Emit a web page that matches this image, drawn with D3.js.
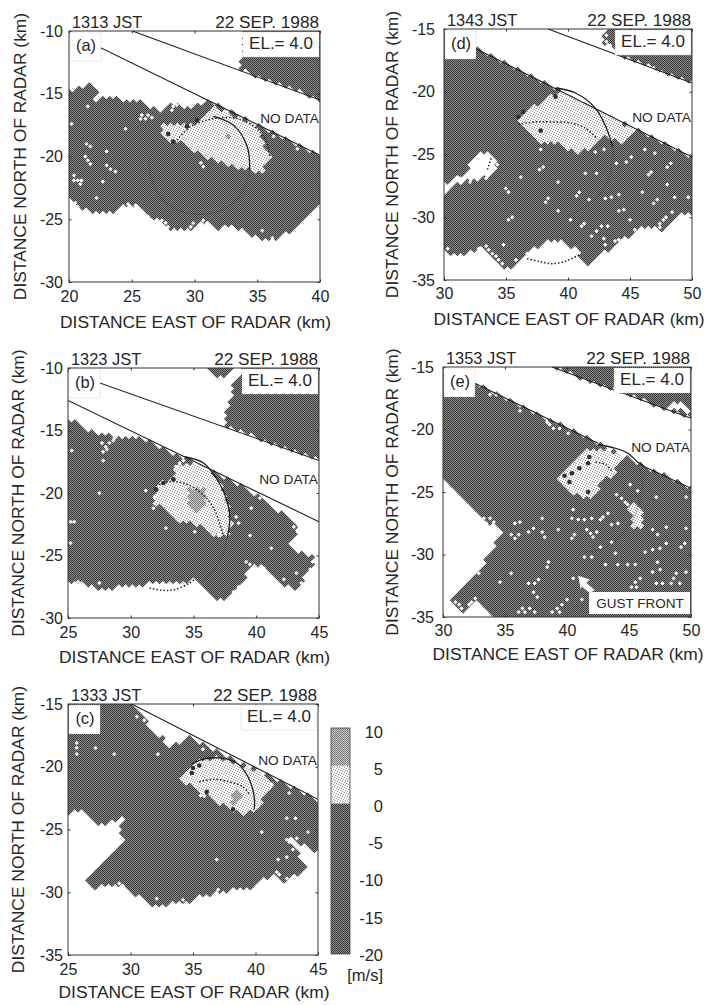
<!DOCTYPE html>
<html><head><meta charset="utf-8">
<script src="https://cdnjs.cloudflare.com/ajax/libs/d3/7.8.5/d3.min.js"></script>
<style>
html,body{margin:0;padding:0;background:#fff}
svg{display:block}
text{font-family:"Liberation Sans",Arial,sans-serif;fill:#262626}
</style></head><body>
<script>
// ---------- values (km) ----------
const panelLetters = ["a","b","c","d","e"];
const times = ["1313 JST","1323 JST","1333 JST","1343 JST","1353 JST"];
const dateLabel = "22 SEP. 1988";
const elevationLabel = "EL.= 4.0";
const xDomains = [[20,40],[25,45],[25,45],[30,50],[30,50]];
const yDomains = [[-30,-10],[-30,-10],[-35,-15],[-35,-15],[-35,-15]];
const colorBands = [[-20,0,"dark"],[0,5,"light"],[5,10,"mid"]];
const colorTicks = [10,5,0,-5,-10,-15,-20];

const echoA = [
 [[20,-14.7],[20.9,-14.5],[21.6,-14.1],[22.4,-14.7],[22.1,-15.5],[23.7,-15.2],[24.5,-15.6],[25.8,-15.5],[27,-16.4],[28.3,-15.8],[29.4,-16.2],[30.5,-15.8],[31,-15.5],[40,-19.9],[40,-24],[39.2,-24.8],[38.4,-25.2],[37.6,-26],[36.2,-26.7],[34.7,-26.4],[33.9,-25.9],[32.8,-25.6],[31.8,-25.7],[30.7,-25.1],[29.7,-25.7],[28.6,-25.9],[27.8,-25.7],[27,-25.1],[26.2,-24.7],[25.4,-23.9],[24.6,-23.8],[23.5,-24.5],[21.9,-24.5],[20.9,-24.1],[20,-23.5]],
 [[33.4,-13],[33.9,-12],[33.9,-10],[40,-10],[40,-15.5]]
];
const lightA = [[[31.5,-16.1],[35.1,-17.6],[35.5,-19],[36,-20],[35.5,-21.1],[34.4,-21.1],[33.1,-20.8],[31.8,-20.3],[30.5,-19.8],[29.4,-19.2],[28.6,-18.7],[27.8,-18.7],[27.3,-17.6],[28.6,-17.4],[30.2,-17.6],[31,-16.8]]];
const midA = [[[32.6,-18],[33.1,-18.3],[32.8,-18.7],[32.3,-18.4]]];
const speckA = [[21.5,-16],[20.2,-17.4],[24.5,-17.8],[21.4,-19],[21.7,-19.2],[23,-19.6],[21.3,-20],[21.5,-20.3],[21.7,-20.6],[23,-20.7],[23.3,-21],[23.7,-21.2],[20.4,-21.5],[20.7,-21.9],[20.9,-22.2],[20.4,-21.9],[21,-21.9],[22.7,-22],[22.2,-23.3],[20.5,-23.7],[20.7,-24],[24.7,-23.8],[25.3,-23.9],[25.8,-16.7],[26.1,-17],[26.3,-16.7],[26.6,-16.9],[25.7,-17],[28.3,-16],[28.2,-16.3],[28.6,-15.9],[30.5,-20.5],[30.7,-20.8],[36.3,-18.4],[38.2,-19.4],[35.4,-25.9],[36.2,-26.5],[26.3,-24.8],[26.6,-25.1],[27.4,-25.1],[27.7,-25.3],[27.9,-25.6],[29.7,-25.6],[29.9,-25.3],[30.7,-25.1],[31,-25.3],[31.2,-25.6]];
const blobA = [[27.9,-18.2],[28.3,-18.8],[29.4,-17.6],[30.2,-17.1]];
const solidA = [[[31.5,-16.8],[33.1,-17.5],[34.2,-19.2],[34.4,-21.1]]];
const faintA = [[[34.4,-21.1],[34,-22.4],[33.1,-23.7],[31.5,-24.5],[29.4,-24.5],[27.5,-23.5],[26.5,-21.6],[26.4,-20]]];
const dottedA = [[[28.6,-18.7],[29.7,-17.6],[31,-17.1],[32.1,-16.9],[33.5,-17],[35,-17.8],[35.8,-19],[36,-20.1]]];
const edgesA = [[[25.05,-10],[40,-15.5]],[[20,-10.1],[40,-19.9]]];

const echoB = [
 [[25,-14.3],[25.8,-14.2],[26.7,-15.1],[27.8,-15.2],[28.9,-15.5],[29.8,-15.5],[30.7,-15.5],[38.2,-19.1],[40,-20.2],[41.4,-21.1],[42.7,-22.2],[43.6,-22.7],[43,-23.4],[42.4,-24],[43.5,-24.7],[44.8,-25.2],[44.3,-26.3],[43.5,-27.2],[43,-27.7],[41.9,-27.1],[40.6,-26],[39.8,-25.5],[39.1,-26.8],[38.2,-28.1],[37.1,-28.5],[36,-27.9],[35.2,-26.9],[34.2,-27.1],[32.8,-27.2],[31.3,-27.3],[29.7,-27.3],[28.1,-27.7],[27,-27.5],[25.7,-27.1],[25,-27.2]],
 [[36.2,-10],[38.2,-10],[37.9,-10.5],[37.1,-10.7],[36.6,-10.5]],
 [[38.9,-10.3],[38.2,-11.1],[38,-12.4],[37.6,-13.2],[37.4,-14.6],[45,-17.4],[45,-10],[39,-10]]
];
const lightB = [[[33.9,-17.6],[35.5,-17.6],[36.8,-18.6],[37.6,-20.2],[38,-22.3],[37.8,-23.4],[36.8,-23.4],[35.8,-22.8],[34.7,-22.3],[33.4,-22.2],[32.8,-21.2],[32,-21],[31.9,-19.9],[32.6,-19.1],[33.4,-18.6]]];
const midB = [[[34.7,-19.6],[35.8,-19.6],[35.9,-21],[35.2,-21.4],[34.6,-21.1]]];
const speckB = [[25.3,-16.6],[27.7,-16],[28,-16.3],[28.3,-16],[28.6,-15.8],[28.7,-15.6],[27.8,-16.7],[28.1,-16.5],[27.8,-17.4],[27.5,-20],[25.2,-22.3],[25.5,-22.3],[25.2,-24],[32.8,-22.8],[35.1,-23.1],[39.5,-23.4],[41.2,-24.4],[39.2,-25.5],[39.5,-25.7],[40.6,-26],[42.2,-26.9],[43.2,-26.4],[43.6,-27.2],[44,-26.7],[44.3,-26.1],[44.5,-25.5],[25.8,-27.1],[27.5,-27.2],[43,-22.7],[43.4,-22.6],[43.3,-23.1],[40.3,-20.4],[39.6,-21.2],[41.5,-21.1],[38.4,-21.9],[38.6,-22.4],[37,-23.4],[31.8,-21.2],[31.2,-19.8],[31.9,-20.4],[33.6,-17.9],[33.9,-17.6],[34.2,-17.4],[38.2,-27.9],[38.6,-27.5]];
const blobB = [[32,-19.7],[32.6,-19.2],[33.4,-18.9]];
const solidB = [[[34.3,-17.1],[35.8,-17.6],[36.8,-18.8],[37.6,-20.4],[37.9,-22],[37.7,-23.5]]];
const faintB = [[[37.7,-23.5],[37.1,-25.5],[35.8,-27]]];
const dottedB = [[[32,-19.4],[33.1,-19.1],[34.2,-19.2],[35.5,-19.9],[36.6,-21.2],[37.2,-22.8],[37.4,-23.4]],[[31.5,-27.6],[32.6,-27.8],[33.6,-27.7],[34.7,-27.2],[35.1,-26.9]]];
const edgesB = [[[25,-10.3],[45,-17.4]],[[25,-12.6],[45,-22.3]]];

const echoC = [[[25,-15],[30.1,-15],[30.5,-15.6],[31.3,-16.3],[31.3,-16.9],[32.6,-17.7],[32.9,-18.5],[33.7,-18.1],[34.7,-17.7],[35.8,-18.2],[45,-22.6],[45,-26.9],[43.5,-26.1],[42.5,-25.6],[43,-26.4],[44.3,-28],[43,-28.8],[42.2,-29.3],[41.4,-28.5],[39.5,-29.7],[37.7,-29.9],[36.6,-30.2],[35.5,-30.2],[34.5,-30.9],[33.4,-30.9],[32.3,-31.3],[31.3,-30.7],[30.2,-30.1],[29.4,-29.5],[28.3,-29.3],[27.3,-29.8],[26.5,-29],[27.3,-28],[28.3,-26.9],[29.5,-25.8],[29.1,-25.3],[29.5,-24],[28.2,-24.5],[27.3,-24.5],[26.5,-23.8],[25.7,-23.4],[25,-24.1]]];
const lightC = [[[33.8,-20.9],[34.7,-20],[35.8,-19.4],[37.1,-19.3],[38.7,-19.8],[40.1,-20.4],[41.4,-21.4],[40.6,-22.6],[39.8,-23.6],[38.7,-23.7],[37.9,-23.4],[36.6,-22.5],[35.3,-21.8],[34.5,-21.3]]];
const midC = [[[37.7,-22.1],[38.7,-22],[39,-22.8],[38.2,-22.9]]];
const speckC = [[25.7,-18.1],[25.7,-18.5],[25.7,-19],[27.2,-18.5],[28.7,-19],[30.5,-16],[31.1,-16.3],[32.2,-19],[33.9,-18],[36.9,-27.4],[40.5,-25.2],[42.5,-24.1],[43.2,-24.1],[42.7,-22.1],[44.2,-25.2],[43.3,-25.7],[42.5,-25.8],[42.7,-26],[43,-26.6],[42.5,-27.2],[41.8,-27.4],[41.7,-28.4],[41.9,-28.6],[42.5,-28.9],[41.3,-21.4],[37,-29.8],[32.1,-30.5],[34.2,-30.6],[29.1,-29.3],[29.4,-29.5],[35.8,-18.6],[35.6,-22.3],[35.9,-22.35]];
const blobC = [[35.5,-19.9],[34.9,-20.5],[36.1,-22],[38.2,-23.4],[35,-20.1]];
const solidC = [[[34.9,-19.8],[35.8,-19.4],[37.1,-19.3],[38.5,-19.7],[39.4,-20.8],[39.9,-22.4],[39.9,-23.4]]];
const faintC = [[[39.9,-23.4],[39.7,-24.6]]];
const dottedC = [[[35.5,-21.2],[36.6,-21],[37.9,-21.2],[39,-21.6],[39.5,-22.2]]];
const edgesC = [[[30.1,-15],[45,-22.6]]];

const echoD = [
 [[30,-15.3],[50,-25.2],[50,-29.7],[48.9,-29.9],[47.6,-31],[46.2,-30.7],[45.1,-31.3],[43.8,-32.3],[42.7,-32.9],[41.7,-33.8],[40.6,-32.6],[39.5,-31.9],[38.4,-31.8],[37.1,-32.7],[36,-33.7],[35,-34.1],[33.9,-33.1],[33.1,-32.2],[32,-32.9],[30.9,-33.1],[30,-32.5]],
 [[44.1,-17.1],[50,-17.1],[50,-19.3]],
 [[42.7,-15.9],[43.3,-15],[50,-15],[50,-17.1],[43.8,-16.9],[43.5,-16.6]]
];
const holeD = [[[30,-27.4],[31.2,-26.8],[31.9,-26.4],[32.1,-25.6],[33.2,-24.8],[34.2,-25.4],[34,-26.6],[33,-26.9],[32,-27],[30.9,-27.4],[30,-28.1]]];
const lightD = [[[35.8,-22.2],[36.8,-21.4],[38.4,-20.6],[39.2,-20],[40.6,-20.2],[42.2,-21.3],[43,-22],[43.5,-22],[45.4,-23.1],[44.6,-23.8],[44.1,-24.1],[43.3,-23.6],[42.7,-23.6],[42.2,-24.4],[40.9,-24.9],[39.2,-24.1],[37.9,-24],[36.8,-23],[35.8,-22.5]]];
const speckD = [[35,-27.7],[35.2,-28],[36.2,-26.8],[37.7,-26.2],[38,-26],[39.2,-27.2],[40.9,-28],[40.7,-28.3],[38.4,-28.5],[38.2,-28.8],[41.7,-28.6],[39.2,-29.5],[40.2,-30.2],[35.2,-30.2],[35.5,-30],[41.1,-30.7],[41.3,-30.5],[41.9,-31.5],[42.3,-31.1],[42.7,-30.7],[43.2,-30.7],[42.9,-31.7],[43,-32.2],[43.8,-31.9],[44.1,-31.8],[44.1,-29.5],[44.5,-29.4],[43,-28.5],[43.5,-28.4],[44.1,-28.2],[46.9,-28.9],[47.2,-28.6],[46,-28],[48,-27.4],[48.6,-28.4],[49.7,-28.4],[43.9,-25.7],[44.7,-25.6],[45.1,-25.2],[46.2,-24.6],[46.5,-26.6],[46.7,-26.4],[48,-26],[48.3,-25.7],[47,-24.9],[42.3,-26.5],[41.4,-26.5],[45,-30.2],[45.4,-31],[47.4,-30.5],[47.7,-30.2],[47.9,-30],[48.4,-29.6],[47.4,-30.8],[32.8,-32.5],[33.1,-32.7],[33.4,-32.3],[33.6,-32.6],[33.9,-32.9],[34.2,-33.1],[34.4,-33.4],[34.7,-33.7],[34.8,-32.2],[35.8,-33.4],[36.7,-32.9],[40.6,-32.5],[30.3,-32.5],[37.8,-24.6],[42.2,-24.8],[42.9,-24.6],[42.7,-15.9],[43.1,-16],[43.4,-16.3],[43.1,-15.5],[46.9,-18.1],[47.2,-18.4],[46.6,-18],[32.6,-25.4],[32.9,-25],[33.4,-26.9],[34.3,-25.8],[31.3,-26.9],[32.1,-27.2]];
const blobD = [[36.4,-21.6],[36,-22],[37.8,-23.1],[39,-20.4]];
const solidD = [[[39,-19.7],[40.6,-20.1],[42.2,-21.3],[43.1,-22.9],[43.6,-24.4]]];
const faintD = [[[43.6,-24.4],[43.6,-25.4],[43,-27.6],[41.4,-29.1],[39.8,-30]]];
const dottedD = [[[36,-22.6],[37.4,-22.4],[38.7,-22.4],[40.3,-22.5],[41.4,-22.9],[42.3,-23.7]],[[36.7,-33.3],[37.6,-33.5],[38.7,-33.7],[39.8,-33.5],[40.9,-33]],[[33.8,-25.3],[33.5,-26.2]]];
const edgesD = [[[38.4,-15],[50,-19.3]],[[30,-15.3],[50,-25.2]]];

const echoE = [
 [[30,-15.05],[50,-24.7],[50,-35],[34.2,-35],[33.4,-34.6],[32.7,-33.9],[32.1,-34.4],[31.4,-34.5],[30.7,-33.7],[31.3,-32.7],[31.9,-32.2],[32.9,-31.2],[33.9,-29.8],[34.7,-28.3],[34.2,-27.8],[33.4,-27.2],[32.9,-27],[32.1,-26],[31,-25],[30,-23.8]],
 [[38.8,-15],[50,-15],[50,-19.1]]
];
const holeE = [[[48.2,-18.2],[48.7,-17.9],[49.6,-18],[49.8,-18.7],[48.7,-18.4]]];
const lightE = [
 [[39.2,-23.9],[40.1,-23.1],[41.2,-22.2],[41.8,-21.5],[43.1,-21.5],[44.5,-22.2],[43.9,-23.4],[42.8,-24.2],[42.1,-25.5],[41.2,-25.5],[40.1,-24.7],[39.3,-24.3]],
 [[44.9,-25.8],[45.7,-25.9],[46.1,-26.7],[45.9,-27.9],[45.3,-27.8],[45.2,-26.6]]
];
const speckE = [[36.2,-18.5],[33.8,-17.2],[34.3,-17.2],[38.4,-19.4],[38.6,-19.6],[38.9,-19.9],[40.1,-20.3],[39.4,-19.9],[44,-25.2],[44.4,-25.5],[44.7,-25.8],[44.9,-26],[43.3,-26.7],[42.9,-27],[42.7,-27.2],[45.1,-24.4],[45.7,-24.9],[47.2,-25.4],[49.6,-25.4],[40.5,-26.4],[40.4,-27.1],[40.9,-27.2],[41.4,-27.2],[42,-27.1],[36.2,-27.4],[35.8,-27.5],[35.5,-28.4],[35.8,-28.7],[36.1,-28.4],[36.9,-28.2],[37.3,-27.9],[38,-27.1],[38,-28.2],[38.2,-28.6],[39.3,-28],[40.4,-28.7],[40.6,-28.4],[41.6,-28],[41.9,-28.3],[42.1,-28.6],[42.4,-28.2],[43.6,-27.6],[44.1,-27.5],[43.6,-29],[42.7,-29.4],[43.9,-29.9],[41.4,-30.2],[42,-30.2],[38.5,-30.6],[38.4,-31],[35.5,-31.5],[34.6,-32.2],[32.9,-31.5],[36.9,-32.3],[37.4,-32.3],[37.7,-32],[37.3,-33],[37.6,-33.4],[40.5,-31.9],[43.1,-30.8],[44.1,-30.8],[44.9,-30.8],[45.5,-30.8],[47.3,-30.6],[46.9,-31.4],[47.5,-31.2],[48.8,-31.5],[48.6,-31.9],[49.6,-31.4],[45.5,-32.2],[45.2,-32.6],[45.6,-32.6],[45.9,-31.9],[47.2,-32.3],[47.7,-32.3],[48.4,-32.3],[49.1,-32.3],[46.3,-29.8],[46.9,-29.6],[47.5,-29.5],[48,-29.1],[49.2,-29.4],[49.5,-29.1],[46.9,-28],[49.6,-27.9],[48,-27.8],[47.3,-28.4],[36.1,-34.6],[36.4,-34.3],[36.6,-34.6],[37,-34.3],[37.4,-34.6],[38.8,-34.6],[39.2,-34.3],[39.6,-34],[40,-33.6],[39.4,-34.6],[41.2,-33.6],[32.3,-33.8],[32.1,-34],[32.6,-33.5],[31,-33.8],[31.3,-34],[31.5,-34.3],[33.3,-27.1],[33.5,-27.5],[33.8,-27.1],[34.1,-27.4]];
const blobE = [[41.8,-22.2],[41.7,-22.7],[41,-23.1],[40.4,-23.5],[39.8,-23.7],[40.2,-24.2],[41.7,-25]];
const solidE = [[[42.5,-21.2],[43.9,-21.5],[44.9,-21.9],[45.7,-22.6],[46.3,-23]]];
const faintE = [[[45.7,-22.6],[46.1,-24.2],[45.7,-26.3],[44.6,-28.2],[43,-29.5],[41.4,-29.8]]];
const dottedE = [[[42.3,-22.6],[43.1,-22.8],[43.7,-23.4]]];
const edgesE = [[[38.8,-15],[50,-19.1]],[[30,-15.05],[42.5,-21.1]],[[46.3,-23],[50,-24.7]]];
const arrowE = [[40.9,-31.7],[41.85,-32],[41.55,-32.25],[42.25,-32.85],[41.8,-33.05],[41.2,-32.55],[41.1,-32.75]];

const echoes = [echoA,echoB,echoC,echoD,echoE];
const holes = [[],[],[],holeD,holeE];
const lights = [lightA,lightB,lightC,lightD,lightE];
const mids = [midA,midB,midC,[],[]];
const specks = [speckA,speckB,speckC,speckD,speckE];
const blobs = [blobA,blobB,blobC,blobD,blobE];
const solids = [solidA,solidB,solidC,solidD,solidE];
const faints = [faintA,faintB,faintC,faintD,faintE];
const dotteds = [dottedA,dottedB,dottedC,dottedD,dottedE];
const edges = [edgesA,edgesB,edgesC,edgesD,edgesE];

// ---------- layout ----------
const frames = [
 {L:69,R:320,T:31,B:282,yl:20,xl:328,tp:8.5,lp:6,nd:123},
 {L:68,R:319,T:368,B:618,yl:18,xl:663,tp:8.5,lp:5,nd:484},
 {L:68,R:318,T:704,B:955,yl:18,xl:998,tp:8.5,lp:5,nd:765},
 {L:444,R:692,T:29,B:280,yl:392,xl:325,tp:7.5,lp:9,nd:122},
 {L:443,R:691,T:367,B:617,yl:392,xl:660,tp:7.5,lp:9,nd:452}
];
const cell = 0.27;

const svg = d3.select("body").append("svg").attr("width",704).attr("height",1005).attr("viewBox","0 0 704 1005");
const defs = svg.append("defs");
function tex(id,a,b,size,dots){
  const p = defs.append("pattern").attr("id",id).attr("patternUnits","userSpaceOnUse").attr("width",size).attr("height",size);
  p.append("rect").attr("width",size).attr("height",size).attr("fill",a);
  dots.forEach(d=>p.append("rect").attr("x",d[0]).attr("y",d[1]).attr("width",1).attr("height",1).attr("fill",b));
}
tex("dark","#8c8c8c","#383838",2,[[0,0],[1,1]]);
tex("mid","#cccccc","#787878",2,[[0,0],[1,1]]);
tex("light","#f5f5f5","#999999",5,[[0,0],[2,1],[4,2],[1,3],[3,4]]);
const fillOf = {dark:"url(#dark)",mid:"url(#mid)",light:"url(#light)"};

frames.forEach((f,k)=>{
  const x = d3.scaleLinear().domain(xDomains[k]).range([f.L,f.R]);
  const y = d3.scaleLinear().domain(yDomains[k]).range([f.B,f.T]);
  const g = svg.append("g");
  const clip = "clip"+k;
  defs.append("clipPath").attr("id",clip).append("rect").attr("x",f.L).attr("y",f.T).attr("width",f.R-f.L).attr("height",f.B-f.T);
  const plot = g.append("g").attr("clip-path",`url(#${clip})`);

  // radar cells on a diagonal lattice, classified by the regions
  const paths = {dark:d3.path(),light:d3.path(),mid:d3.path()};
  const inAny = (list,p)=>list.some(poly=>d3.polygonContains(poly,p));
  const [x0,x1]=xDomains[k], [y0,y1]=yDomains[k];
  const nx=Math.ceil((x1-x0)/cell)+1, ny=Math.ceil((y1-y0)/cell)+1;
  const diamond=(pth,c,r)=>{
    pth.moveTo(x(c[0]-r),y(c[1])); pth.lineTo(x(c[0]),y(c[1]+r));
    pth.lineTo(x(c[0]+r),y(c[1])); pth.lineTo(x(c[0]),y(c[1]-r)); pth.closePath();
  };
  for(let i=0;i<nx;i++) for(let j=0;j<ny;j++){
    if((i+j)%2) continue;
    const c=[x0+i*cell,y0+j*cell];
    if(!inAny(echoes[k],c)||inAny(holes[k],c)) continue;
    const kind = inAny(mids[k],c)?"mid":inAny(lights[k],c)?"light":"dark";
    diamond(paths[kind],c,cell);
  }
  ["dark","light","mid"].forEach(n=>plot.append("path").attr("d",paths[n].toString()).attr("fill",fillOf[n]));

  const sp=d3.path();
  specks[k].forEach(c=>diamond(sp,c,0.17));
  plot.append("path").attr("d",sp.toString()).attr("fill","#fff");

  plot.selectAll(".blob").data(blobs[k]).join("circle")
    .attr("cx",d=>x(d[0])).attr("cy",d=>y(d[1])).attr("r",2.3).attr("fill","#303030");

  const straight=d3.line().x(d=>x(d[0])).y(d=>y(d[1]));
  const curve=d3.line().x(d=>x(d[0])).y(d=>y(d[1])).curve(d3.curveCatmullRom.alpha(.5));
  plot.selectAll(".edge").data(edges[k]).join("path").attr("d",straight).attr("fill","none").attr("stroke","#1c1c1c").attr("stroke-width",1.1);
  plot.selectAll(".faint").data(faints[k]).join("path").attr("d",curve).attr("fill","none").attr("stroke","#333").attr("stroke-width",.6).attr("stroke-opacity",.55);
  plot.selectAll(".solid").data(solids[k]).join("path").attr("d",curve).attr("fill","none").attr("stroke","#1c1c1c").attr("stroke-width",1.3);
  plot.selectAll(".dotted").data(dotteds[k]).join("path").attr("d",curve).attr("fill","none").attr("stroke","#222").attr("stroke-width",1.5).attr("stroke-dasharray","1.5 2");

  if(k===4){
    plot.append("path").attr("d",straight(arrowE)+"Z").attr("fill","#fff");
  }

  // frame and axes
  g.append("rect").attr("x",f.L).attr("y",f.T).attr("width",f.R-f.L).attr("height",f.B-f.T).attr("fill","none").attr("stroke","#333").attr("stroke-width",1);
  const xt=d3.range(x0,x1+1,5), yt=d3.range(y0,y1+1,5);
  const mk=(sel,ax)=>{ sel.call(ax); sel.select(".domain").remove(); sel.selectAll("line").attr("stroke","#333"); sel.selectAll("text").attr("font-size",16).style("fill","#262626"); };
  mk(g.append("g").attr("transform",`translate(0,${f.B})`),d3.axisBottom(x).tickValues(xt).tickSize(-2.5).tickPadding(f.tp).tickFormat(d3.format("d")));
  mk(g.append("g").attr("transform",`translate(${f.L},0)`),d3.axisLeft(y).tickValues(yt).tickSize(-2.5).tickPadding(f.lp).tickFormat(d=>"-"+Math.abs(d)));
  mk(g.append("g").attr("transform",`translate(0,${f.T})`),d3.axisTop(x).tickValues(xt).tickSize(-2.5).tickFormat(""));
  mk(g.append("g").attr("transform",`translate(${f.R},0)`),d3.axisRight(y).tickValues(yt).tickSize(-2.5).tickFormat(""));

  // boxes and annotations
  const boxStyle=s=>s.attr("fill","#fff").attr("stroke","#bbb").attr("stroke-width",.6).attr("stroke-dasharray","1 1");
  g.append("rect").attr("x",f.L+1).attr("y",f.T+1).attr("width",31).attr("height",29).call(boxStyle);
  g.append("rect").attr("x",f.R-77).attr("y",f.T+1).attr("width",76).attr("height",25).call(boxStyle);
  g.append("text").attr("x",f.L+17).attr("y",f.T+20).attr("text-anchor","middle").attr("font-size",16.5).text(`(${panelLetters[k]})`);
  g.append("text").attr("x",f.R-39).attr("y",f.T+18).attr("text-anchor","middle").attr("font-size",17).text(elevationLabel);
  g.append("text").attr("x",f.L+3).attr("y",f.T-3).attr("font-size",16.4).text(times[k]);
  g.append("text").attr("x",f.R-1).attr("y",f.T-3).attr("text-anchor","end").attr("font-size",17.2).text(dateLabel);
  g.append("text").attr("x",f.R-1).attr("y",f.nd).attr("text-anchor","end").attr("font-size",13.7).text("NO DATA");
  g.append("text").attr("x",(f.L+f.R)/2+1).attr("y",f.xl).attr("text-anchor","middle").attr("font-size",17.4).text("DISTANCE EAST OF RADAR (km)");
  g.append("text").attr("transform",`translate(${f.yl+6},${(f.T+f.B)/2}) rotate(-90)`).attr("text-anchor","middle").attr("font-size",17.4).text("DISTANCE NORTH OF RADAR (km)");
  if(k===4){
    g.append("rect").attr("x",589).attr("y",592).attr("width",101).attr("height",22).attr("fill","#fff");
    g.append("text").attr("x",640).attr("y",608).attr("text-anchor","middle").attr("font-size",13.5).text("GUST FRONT");
  }
});

// colour bar
const barY = d3.scaleLinear().domain([-20,10]).range([954,728]);
const bar = svg.append("g");
bar.selectAll("rect").data(colorBands).join("rect")
  .attr("x",331).attr("width",19).attr("y",d=>barY(d[1])).attr("height",d=>barY(d[0])-barY(d[1])).attr("fill",d=>fillOf[d[2]]);
bar.append("rect").attr("x",331).attr("y",728).attr("width",19).attr("height",226).attr("fill","none").attr("stroke","#444").attr("stroke-width",.8);
const labelY = d3.scaleLinear().domain([-20,10]).range([955,732]);
const lab = svg.append("g").attr("transform","translate(383,0)").call(d3.axisLeft(labelY).tickValues(colorTicks).tickSize(0).tickPadding(0).tickFormat(d=>d));
lab.select(".domain").remove();
lab.selectAll("text").attr("font-size",16.5).style("fill","#262626");
svg.append("text").attr("x",383).attr("y",981).attr("text-anchor","end").attr("font-size",16.5).text("[m/s]");
</script>
</body></html>
